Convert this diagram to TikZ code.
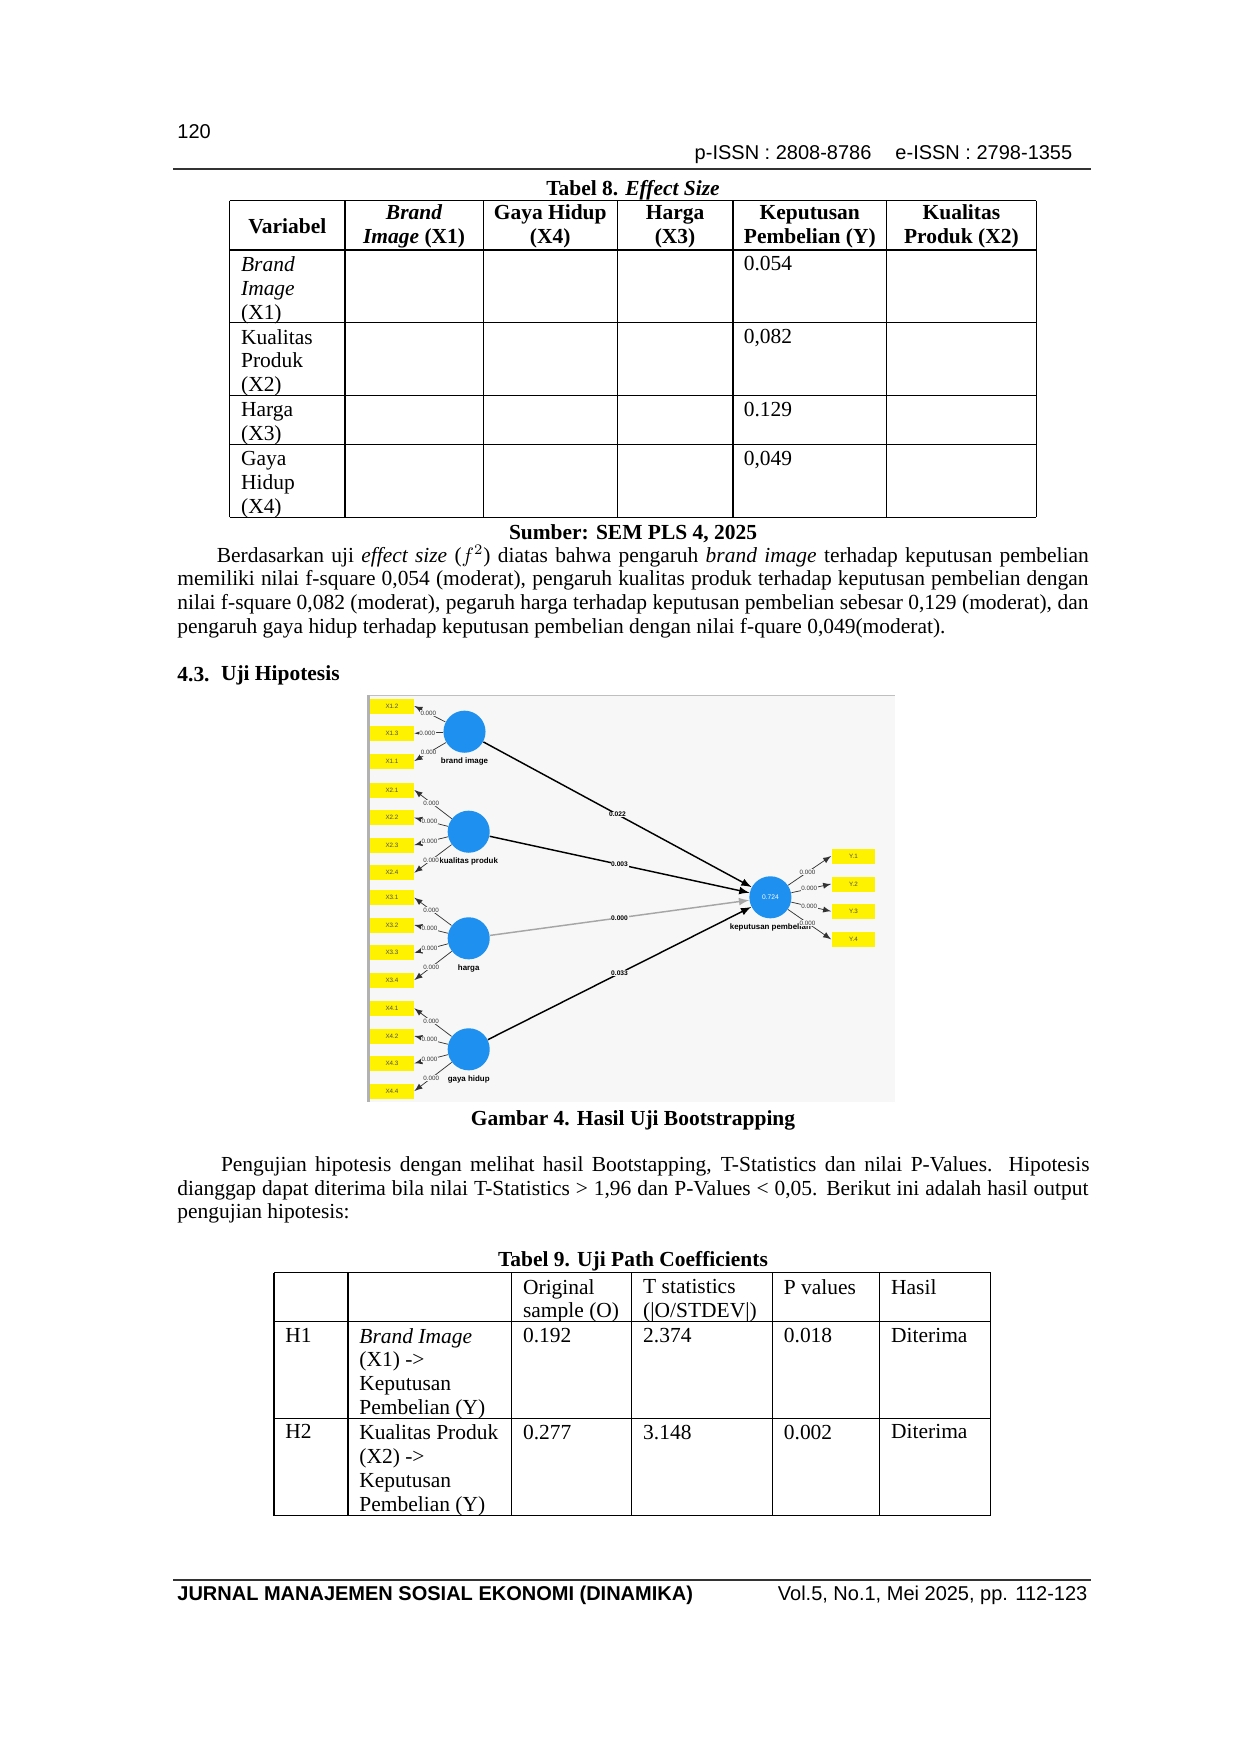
\documentclass[tikz,border=0pt]{standalone}
\usepackage{fontspec}
\setmainfont{Liberation Serif}
\setsansfont{Liberation Sans}
\usetikzlibrary{positioning}
\usetikzlibrary{arrows.meta}

\definecolor{plsblue}{RGB}{30,144,240}
\definecolor{indyellow}{RGB}{255,242,0}
\definecolor{canvas}{RGB}{247,247,247}

% justified line
\newcommand{\jline}[2]{\makebox[#1][s]{#2}}

\begin{document}
\begin{tikzpicture}[x=0.48pt,y=-0.48pt,>=latex,
  body/.style={font=\fontsize{10.3}{11.5}\selectfont,inner sep=0pt},
  bodyb/.style={body,font=\fontsize{10.3}{11.5}\selectfont\bfseries},
  sans/.style={font=\fontsize{9.6}{11}\sffamily,inner sep=0pt},
  cell/.style={body,anchor=north west,align=left},
  hcell/.style={bodyb,align=center},
  rule/.style={line width=0.6pt},
  lv/.style={circle,fill=plsblue,minimum size=20.2pt,inner sep=0pt},
  lvtext/.style={font=\fontsize{3.8}{4}\sffamily\bfseries,inner sep=0.5pt},
  ind/.style={rectangle,fill=indyellow,minimum width=21.1pt,minimum height=7.2pt,
    inner sep=0pt,font=\fontsize{3}{3.5}\sffamily,text=black!70},
  load/.style={->,line width=0.35pt,black!80},
  ldlabel/.style={font=\fontsize{3}{3.5}\sffamily,fill=canvas,inner sep=0.3pt,text=black!80},
  struct/.style={->,line width=0.7pt},
  plabel/.style={font=\fontsize{3.2}{3.5}\sffamily\bfseries,fill=canvas,inner sep=0.3pt}]
  \useasboundingbox[fill=white] (0,0) rectangle (1240,1754);

  % kepala halaman
  \node[sans,anchor=west] (pgno) at (177,131.7) {120};
  \node[sans,anchor=east] (issn) at (1072.7,155) {p-ISSN : 2808-8786\hspace{1.2em}e-ISSN : 2798-1355};
  \draw[line width=1pt,black!80] (173,169.3) -- (1091,169.3);

  % Tabel 8
  \node[bodyb] (t8title) at (633,190) {Tabel 8. \textit{Effect Size}};
  \foreach \x in {229.7,345,483.2,617.2,733.1,886.5,1036.3}
    \draw[rule] (\x,200.7) -- (\x,517.3);
  \foreach \y in {200.7,250,322.7,395.7,444.7,517.3}
    \draw[rule] (229.7,\y) -- (1036.3,\y);
  \node[hcell] (h0) at (287.3,226.6) {Variabel};
  \node[hcell] (h1) at (414.1,226.6) {\textit{Brand}\\\textit{Image} (X1)};
  \node[hcell] (h2) at (550.2,226.6) {Gaya Hidup\\(X4)};
  \node[hcell] (h3) at (675.1,226.6) {Harga\\(X3)};
  \node[hcell] (h4) at (809.8,226.6) {Keputusan\\Pembelian (Y)};
  \node[hcell] (h5) at (961.4,226.6) {Kualitas\\Produk (X2)};
  \node[cell] (r1) at (240.7,256) {\textit{Brand}\\\textit{Image}\\(X1)};
  \node[cell] (r2) at (240.7,328.7) {Kualitas\\Produk\\(X2)};
  \node[cell] (r3) at (240.7,401.7) {Harga\\(X3)};
  \node[cell] (r4) at (240.7,450.7) {Gaya\\Hidup\\(X4)};
  \node[cell] (v1) at (743.4,256) {0.054};
  \node[cell] (v2) at (743.4,328.7) {0,082};
  \node[cell] (v3) at (743.4,401.7) {0.129};
  \node[cell] (v4) at (743.4,450.7) {0,049};
  \node[bodyb] (t8src) at (633,533.3) {Sumber: SEM PLS 4, 2025};

  % paragraf
  \node[body,anchor=west] (p1a) at (216.4,556) {\jline{418.6pt}{Berdasarkan uji \textit{effect size} ($f^2$) diatas bahwa pengaruh \textit{brand image} terhadap keputusan pembelian}};
  \node[body,anchor=west] (p1b) at (177,580) {\jline{437.3pt}{memiliki nilai f-square 0,054 (moderat), pengaruh kualitas produk terhadap keputusan pembelian dengan}};
  \node[body,anchor=west] (p1c) at (177,604) {\jline{437.3pt}{nilai f-square 0,082 (moderat), pegaruh harga terhadap keputusan pembelian sebesar 0,129 (moderat), dan}};
  \node[body,anchor=west] (p1d) at (177,628.3) {pengaruh gaya hidup terhadap keputusan pembelian dengan nilai f-quare 0,049(moderat).};
  \node[bodyb,anchor=west] (sec) at (177,675) {4.3.};
  \node[bodyb,anchor=west] (sectitle) at (220.6,675) {Uji Hipotesis};

  % Gambar 4
  \fill[canvas] (368,695) rectangle (895,1102);
  \draw[black!25,line width=0.8pt] (368,695.5) -- (895,695.5);
  \draw[black!30,line width=1.6pt] (368.5,695) -- (368.5,1102);

  \node[lv] (bi) at (464.5,731.7) {};
  \node[lv] (kp) at (468.7,831.7) {};
  \node[lv] (hg) at (468.7,938.3) {};
  \node[lv] (gh) at (468.7,1049.3) {};
  \node[lv,font=\fontsize{3.2}{3.5}\sffamily,text=white] (kpb) at (770.4,897.3) {0.724};
  \node[lvtext,below=1.6pt of bi] (bitext) {brand image};
  \node[lvtext,below=1.6pt of kp] (kptext) {kualitas produk};
  \node[lvtext,below=1.6pt of hg] (hgtext) {harga};
  \node[lvtext,below=1.6pt of gh] (ghtext) {gaya hidup};
  \node[lvtext,below=1.6pt of kpb] (kpbtext) {keputusan pembelian};

  \foreach \n/\t/\y in {x12/X1.2/706,x13/X1.3/733.3,x11/X1.1/761,
      x21/X2.1/790,x22/X2.2/817.7,x23/X2.3/845,x24/X2.4/872.7,
      x31/X3.1/897.7,x32/X3.2/925,x33/X3.3/952.7,x34/X3.4/980,
      x41/X4.1/1008.3,x42/X4.2/1036,x43/X4.3/1063.3,x44/X4.4/1091}
    \node[ind] (\n) at (392,\y) {\t};
  \foreach \n/\t/\y in {y1/Y.1/856,y2/Y.2/884,y3/Y.3/911.3,y4/Y.4/939.3}
    \node[ind] (\n) at (853.5,\y) {\t};

  \foreach \a/\b in {bi/x12,bi/x13,bi/x11,kp/x21,kp/x22,kp/x23,kp/x24,
      hg/x31,hg/x32,hg/x33,hg/x34,gh/x41,gh/x42,gh/x43,gh/x44}
    \draw[load] (\a) -- (\b.east) node[ldlabel,pos=0.55] {0.000};
  \foreach \b in {y1,y2,y3,y4}
    \draw[load] (kpb) -- (\b.west) node[ldlabel,pos=0.45] {0.000};

  \draw[struct] (bi) -- (kpb) node[plabel,midway] {0.022};
  \draw[struct] (kp) -- (kpb) node[plabel,midway] {0.003};
  \draw[struct,black!35] (hg) -- (kpb) node[plabel,midway,text=black] {0.000};
  \draw[struct] (gh) -- (kpb) node[plabel,midway] {0.033};

  \node[bodyb] (fig4) at (633,1120) {Gambar 4. Hasil Uji Bootstrapping};

  % paragraf 2
  \node[body,anchor=west] (p2a) at (220.6,1166) {\jline{416.9pt}{Pengujian hipotesis dengan melihat hasil Bootstapping, T-Statistics dan nilai P-Values. Hipotesis}};
  \node[body,anchor=west] (p2b) at (177,1190) {\jline{437.3pt}{dianggap dapat diterima bila nilai T-Statistics > 1,96 dan P-Values < 0,05. Berikut ini adalah hasil output}};
  \node[body,anchor=west] (p2c) at (177,1213.3) {pengujian hipotesis:};

  % Tabel 9
  \node[bodyb] (t9title) at (633,1261.7) {Tabel 9. Uji Path Coefficients};
  \foreach \x in {274,348,511.7,631.8,772.5,879.8,990.8}
    \draw[rule] (\x,1272.7) -- (\x,1515.7);
  \foreach \y in {1272.7,1321.7,1418.3,1515.7}
    \draw[rule] (274,\y) -- (990.8,\y);
  \node[cell] (c2) at (522.7,1278.7) {Original\\sample (O)};
  \node[cell] (c3) at (642.8,1278.7) {T statistics\\(|O/STDEV|)};
  \node[cell] (c4) at (783.5,1278.7) {P values};
  \node[cell] (c5) at (890.8,1278.7) {Hasil};
  \node[cell] (h1a) at (285,1327.7) {H1};
  \node[cell] (h1b) at (359,1327.7) {\textit{Brand Image}\\(X1) ->\\Keputusan\\Pembelian (Y)};
  \node[cell] (h1c) at (522.7,1327.7) {0.192};
  \node[cell] (h1d) at (642.8,1327.7) {2.374};
  \node[cell] (h1e) at (783.5,1327.7) {0.018};
  \node[cell] (h1f) at (890.8,1327.7) {Diterima};
  \node[cell] (h2a) at (285,1424.3) {H2};
  \node[cell] (h2b) at (359,1424.3) {Kualitas Produk\\(X2) ->\\Keputusan\\Pembelian (Y)};
  \node[cell] (h2c) at (522.7,1424.3) {0.277};
  \node[cell] (h2d) at (642.8,1424.3) {3.148};
  \node[cell] (h2e) at (783.5,1424.3) {0.002};
  \node[cell] (h2f) at (890.8,1424.3) {Diterima};

  % kaki halaman
  \draw[line width=1pt,black!80] (173,1580) -- (1091,1580);
  \node[sans,font=\fontsize{9.6}{11}\sffamily\bfseries,anchor=west] (jname) at (177,1595) {JURNAL MANAJEMEN SOSIAL EKONOMI (DINAMIKA)};
  \node[sans,anchor=east] (jvol) at (1087.8,1595) {Vol.5, No.1, Mei 2025, pp. 112-123};
\end{tikzpicture}
\end{document}
